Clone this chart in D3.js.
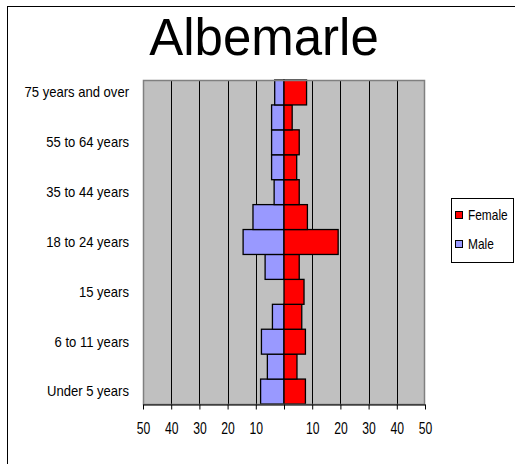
<!DOCTYPE html>
<html>
<head>
<meta charset="utf-8">
<script src="https://cdn.jsdelivr.net/npm/d3@7"></script>
<style>
  html, body { margin: 0; padding: 0; background: #fff; }
  svg { display: block; }
  .narrow { font-family: "Liberation Sans", Arial, sans-serif; }
</style>
</head>
<body>
<svg id="chart" width="515" height="464"></svg>
<script>
const title = "Albemarle";
const categories = ["Under 5 years", "5 years", "6 to 11 years", "12 to 14 years", "15 years",
  "16 to 17 years", "18 to 24 years", "25 to 34 years", "35 to 44 years", "45 to 54 years",
  "55 to 64 years", "65 to 74 years", "75 years and over"];
const shownLabels = ["Under 5 years", "6 to 11 years", "15 years", "18 to 24 years",
  "35 to 44 years", "55 to 64 years", "75 years and over"];
const maleValues   = [8.3, 5.9, 8.0, 4.1, 0, 6.7, 14.5, 11.0, 3.5, 4.4, 4.4, 4.4, 3.3];
const femaleValues = [7.6, 4.6, 7.6, 6.3, 7.1, 5.4, 19.2, 8.3, 5.4, 4.5, 5.4, 2.9, 8.0];
const tickValues = [-50, -40, -30, -20, -10, 0, 10, 20, 30, 40, 50];
const seriesNames = ["Female", "Male"];
const colors = { Female: "#FF0000", Male: "#9999FF" };

const svg = d3.select("#chart");

// condense text horizontally (narrow look of the original)
function condense(sel, ratio) {
  sel.each(function () {
    const len = this.getComputedTextLength();
    if (len > 0) {
      this.setAttribute("textLength", (len * ratio).toFixed(2));
      this.setAttribute("lengthAdjust", "spacingAndGlyphs");
    }
  });
}

// outer chart border
svg.append("rect").attr("x", 7.5).attr("y", 6.5).attr("width", 520).attr("height", 470)
  .attr("fill", "#fff").attr("stroke", "#000").attr("stroke-width", 1);

const plot = { left: 143, right: 425, top: 80, bottom: 404 };

const x = d3.scaleLinear().domain([-50, 50]).range([plot.left, plot.right]);
const y = d3.scaleBand().domain(categories.slice().reverse()).range([plot.top, plot.bottom]).padding(0);

// title
svg.append("text").attr("x", 264).attr("y", 55).attr("text-anchor", "middle")
  .attr("font-family", "'Liberation Sans', Arial, sans-serif").attr("font-size", 51)
  .attr("fill", "#000").text(title);

// plot background
svg.append("rect").attr("x", plot.left).attr("y", plot.top)
  .attr("width", plot.right - plot.left).attr("height", plot.bottom - plot.top)
  .attr("fill", "#C0C0C0");

// gridlines
svg.append("g").selectAll("line").data(tickValues.filter(v => v !== -50 && v !== 50)).join("line")
  .attr("x1", d => Math.round(x(d)) + 0.5).attr("x2", d => Math.round(x(d)) + 0.5)
  .attr("y1", plot.top).attr("y2", plot.bottom)
  .attr("stroke", "#000").attr("stroke-width", 1);

// bars
const rows = categories.map((c, i) => ({ cat: c, male: maleValues[i], female: femaleValues[i] }));
const bars = svg.append("g");
bars.selectAll("rect.male").data(rows.filter(d => d.male > 0)).join("rect")
  .attr("class", "male")
  .attr("x", d => x(-d.male)).attr("width", d => x(0) - x(-d.male))
  .attr("y", d => y(d.cat)).attr("height", y.bandwidth())
  .attr("fill", colors.Male).attr("stroke", "#000").attr("stroke-width", 1.3);
bars.selectAll("rect.female").data(rows).join("rect")
  .attr("class", "female")
  .attr("x", x(0)).attr("width", d => x(d.female) - x(0))
  .attr("y", d => y(d.cat)).attr("height", y.bandwidth())
  .attr("fill", colors.Female).attr("stroke", "#000").attr("stroke-width", 1.3);

// plot border
svg.append("rect").attr("x", plot.left + 0.5).attr("y", plot.top + 0.5)
  .attr("width", plot.right - plot.left - 1).attr("height", plot.bottom - plot.top)
  .attr("fill", "none").attr("stroke", "#808080").attr("stroke-width", 1.5);

// x axis
const xAxis = d3.axisBottom(x).tickValues(tickValues).tickSize(5).tickSizeOuter(0)
  .tickFormat(d => d === 0 ? "" : Math.abs(d));
const gx = svg.append("g").attr("transform", `translate(0,${plot.bottom + 0.5})`).call(xAxis);
gx.select(".domain").attr("stroke", "#000");
gx.selectAll(".tick line").attr("stroke", "#000");
gx.selectAll(".tick text").attr("class", "narrow").attr("font-size", 16).attr("fill", "#000")
  .attr("font-family", null).attr("y", 18);
condense(gx.selectAll(".tick text"), 0.76);

// y axis labels
const yAxis = d3.axisLeft(y).tickValues(shownLabels).tickSize(0).tickPadding(14);
const gy = svg.append("g").attr("transform", `translate(${plot.left},0)`).call(yAxis);
gy.select(".domain").remove();
gy.selectAll(".tick text").attr("class", "narrow").attr("font-size", 15).attr("fill", "#000")
  .attr("font-family", null);
condense(gy.selectAll(".tick text"), 0.87);

// legend
const lg = svg.append("g");
lg.append("rect").attr("x", 451.5).attr("y", 198.5).attr("width", 62).attr("height", 64)
  .attr("fill", "#fff").attr("stroke", "#000").attr("stroke-width", 1);
const items = lg.selectAll("g.item").data(seriesNames).join("g")
  .attr("transform", (d, i) => `translate(455,${211 + i * 29})`);
items.append("rect").attr("x", 0.5).attr("y", 0.5).attr("width", 7).attr("height", 7)
  .attr("fill", d => colors[d]).attr("stroke", "#000").attr("stroke-width", 1);
const lt = items.append("text").attr("class", "narrow").attr("x", 13).attr("y", 4).attr("dy", "0.35em")
  .attr("font-size", 14.5).attr("fill", "#000").text(d => d);
condense(lt, 0.82);
</script>
</body>
</html>
